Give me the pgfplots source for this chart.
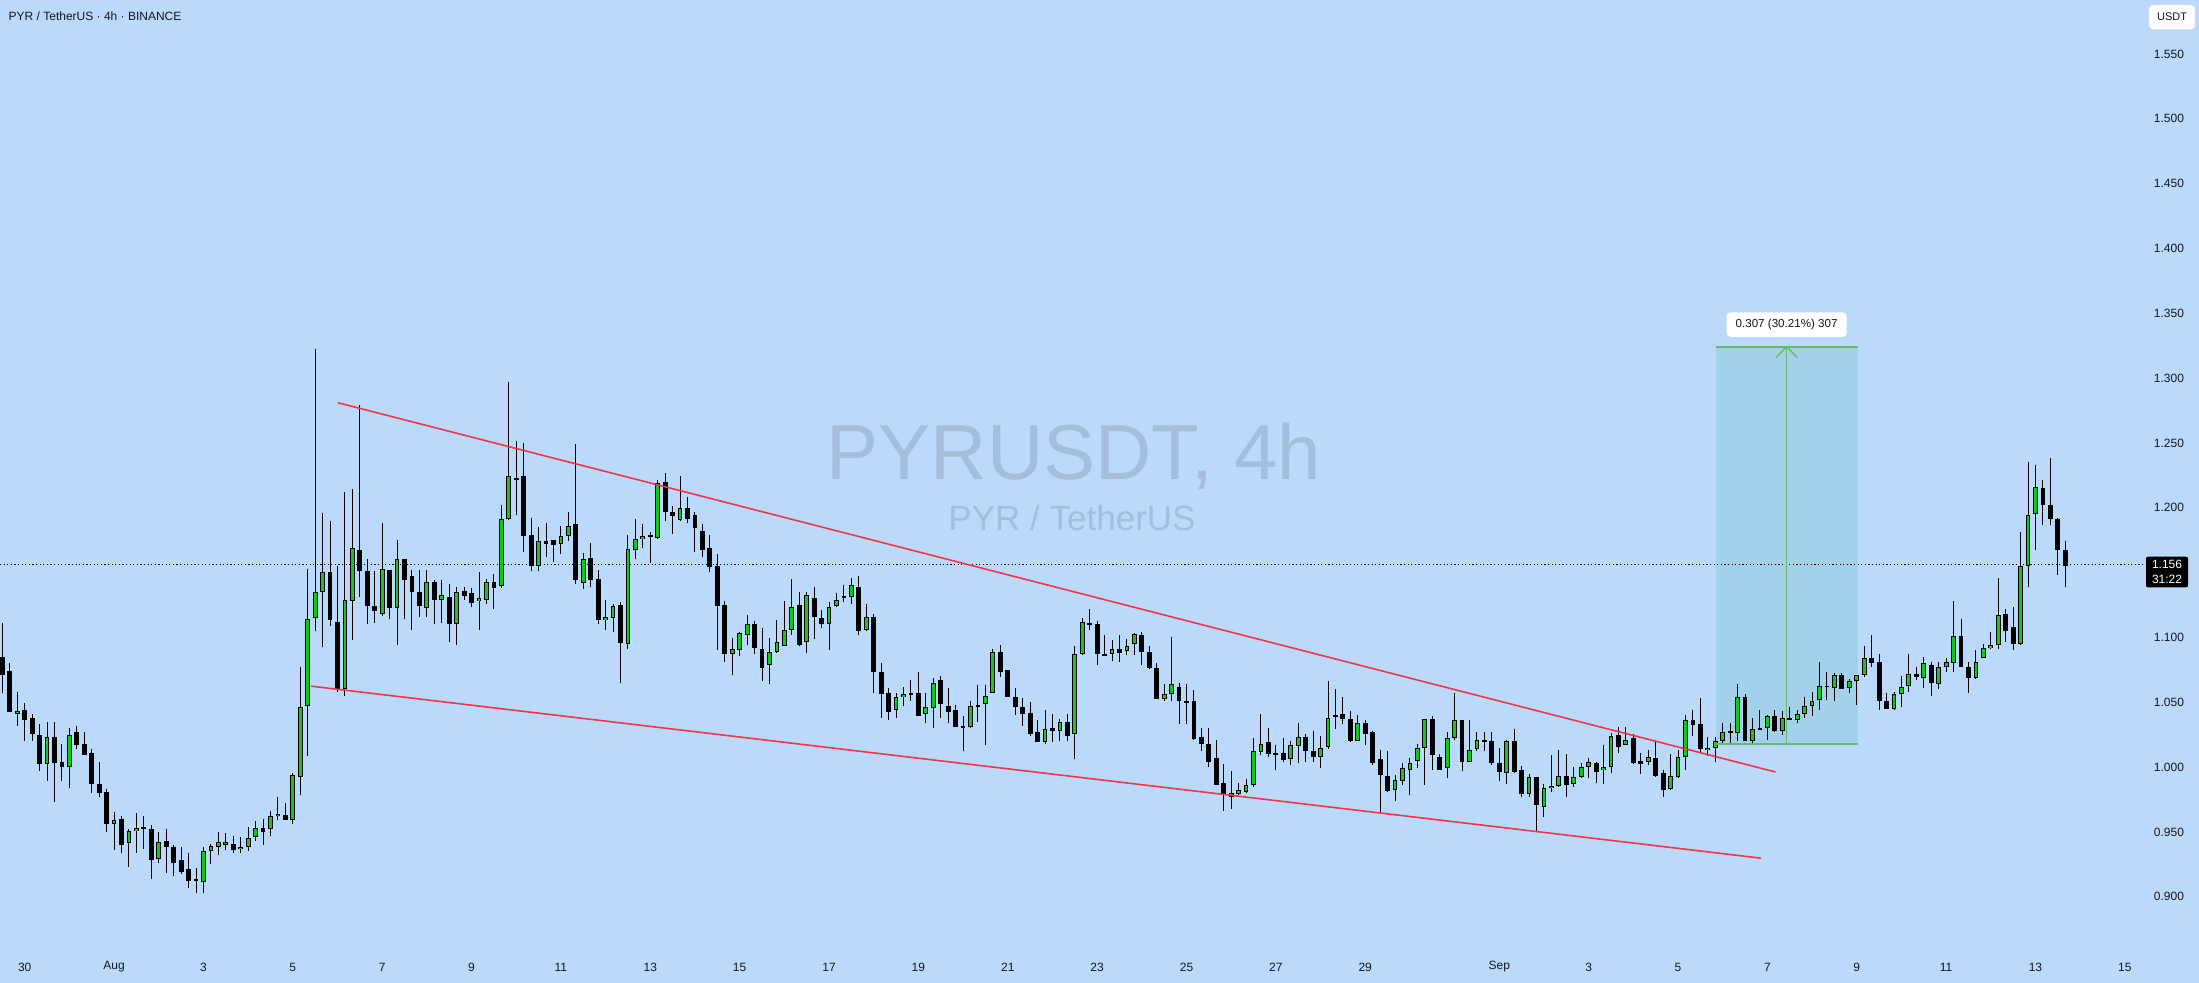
\documentclass[border=0pt]{standalone}
\usepackage{pgfplots}
\pgfplotsset{compat=1.18}
\usepackage{pgfplotstable}
\usepackage{fontspec}
\setmainfont{Liberation Sans}
\definecolor{bgblue}{RGB}{187,217,251}
\definecolor{candlegreen}{RGB}{24,198,26}
\definecolor{trendred}{RGB}{242,54,69}
\definecolor{rangegreen}{RGB}{102,187,106}
\definecolor{rangefill}{RGB}{163,208,234}
\definecolor{wmark}{RGB}{164,190,220}
\definecolor{txt}{RGB}{19,23,34}
\pgfplotstableread{
i o h l c
0 1.0848 1.1114 1.0568 1.0714
1 1.0742 1.0806 1.0424 1.0427
2 1.0413 1.0582 1.0315 1.0433
3 1.0441 1.0498 1.0203 1.0365
4 1.0379 1.0413 1.0203 1.0259
5 1.0248 1.0335 0.9971 1.0027
6 1.0021 1.0349 0.9895 1.0231
7 1.0231 1.0349 0.9727 1.0035
8 1.0041 1.0181 0.9895 0.9999
9 0.9999 1.0301 0.9839 1.0245
10 1.0270 1.0315 1.0141 1.0167
11 1.0178 1.0273 1.0095 1.0097
12 1.0108 1.0139 0.9803 0.9867
13 0.9870 1.0041 0.9769 0.9803
14 0.9808 0.9834 0.9502 0.9558
15 0.9558 0.9651 0.9362 0.9592
16 0.9600 0.9623 0.9334 0.9401
17 0.9418 0.9524 0.9230 0.9508
18 0.9505 0.9643 0.9340 0.9527
19 0.9538 0.9623 0.9370 0.9519
20 0.9522 0.9553 0.9138 0.9286
21 0.9289 0.9496 0.9261 0.9421
22 0.9429 0.9522 0.9186 0.9387
23 0.9387 0.9401 0.9163 0.9264
24 0.9284 0.9384 0.9172 0.9194
25 0.9214 0.9334 0.9068 0.9124
26 0.9138 0.9222 0.9032 0.9124
27 0.9113 0.9384 0.9026 0.9354
28 0.9351 0.9404 0.9255 0.9393
29 0.9382 0.9499 0.9326 0.9424
30 0.9401 0.9491 0.9362 0.9424
31 0.9407 0.9469 0.9334 0.9359
32 0.9368 0.9460 0.9334 0.9384
33 0.9384 0.9538 0.9356 0.9455
34 0.9460 0.9581 0.9432 0.9530
35 0.9530 0.9600 0.9396 0.9502
36 0.9522 0.9662 0.9469 0.9623
37 0.9620 0.9769 0.9595 0.9640
38 0.9634 0.9727 0.9592 0.9595
39 0.9595 0.9957 0.9564 0.9940
40 0.9923 1.0770 0.9783 1.0462
41 1.0470 1.1529 1.0083 1.1139
42 1.1148 1.3225 1.1050 1.1347
43 1.1347 1.1961 1.0924 1.1501
44 1.1501 1.1899 1.1086 1.1137
45 1.1120 1.1549 1.0582 1.0596
46 1.0605 1.2118 1.0546 1.1285
47 1.1279 1.2146 1.0982 1.1686
48 1.1675 1.2790 1.1311 1.1515
49 1.1510 1.1605 1.1106 1.1240
50 1.1240 1.1512 1.1114 1.1207
51 1.1184 1.1882 1.1162 1.1526
52 1.1518 1.1521 1.1142 1.1226
53 1.1229 1.1751 1.0943 1.1602
54 1.1602 1.1608 1.1142 1.1440
55 1.1470 1.1521 1.1058 1.1347
56 1.1347 1.1521 1.1156 1.1246
57 1.1229 1.1521 1.1156 1.1425
58 1.1425 1.1442 1.1106 1.1285
59 1.1285 1.1442 1.1114 1.1324
60 1.1310 1.1414 1.0966 1.1106
61 1.1106 1.1389 1.0938 1.1347
62 1.1358 1.1389 1.1291 1.1319
63 1.1342 1.1381 1.1235 1.1268
64 1.1279 1.1504 1.1058 1.1302
65 1.1285 1.1448 1.1260 1.1425
66 1.1425 1.1490 1.1223 1.1383
67 1.1400 1.2025 1.1378 1.1910
68 1.1910 1.2970 1.1902 1.2241
69 1.2227 1.2513 1.1947 1.2216
70 1.2241 1.2496 1.1655 1.1784
71 1.1787 1.1921 1.1515 1.1554
72 1.1554 1.1849 1.1515 1.1742
73 1.1742 1.1882 1.1622 1.1723
74 1.1748 1.1750 1.1582 1.1709
75 1.1717 1.1857 1.1644 1.1779
76 1.1781 1.1964 1.1745 1.1857
77 1.1871 1.2488 1.1409 1.1445
78 1.1417 1.1650 1.1375 1.1602
79 1.1610 1.1725 1.1392 1.1445
80 1.1448 1.1521 1.1106 1.1137
81 1.1137 1.1288 1.1058 1.1154
82 1.1148 1.1254 1.1044 1.1240
83 1.1249 1.1274 1.0652 1.0960
84 1.0946 1.1787 1.0912 1.1681
85 1.1672 1.1913 1.1605 1.1756
86 1.1756 1.1871 1.1689 1.1781
87 1.1787 1.1815 1.1577 1.1779
88 1.1767 1.2216 1.1759 1.2188
89 1.2196 1.2269 1.1899 1.1964
90 1.1964 1.2011 1.1801 1.1938
91 1.1907 1.2244 1.1899 1.1997
92 1.1997 1.2084 1.1885 1.1916
93 1.1944 1.1964 1.1661 1.1840
94 1.1821 1.1871 1.1624 1.1678
95 1.1689 1.1790 1.1507 1.1546
96 1.1549 1.1641 1.0904 1.1246
97 1.1252 1.1282 1.0814 1.0870
98 1.0870 1.0999 1.0708 1.0907
99 1.0904 1.1044 1.0854 1.1033
100 1.1016 1.1170 1.0943 1.1100
101 1.1100 1.1128 1.0876 1.0915
102 1.0907 1.1072 1.0666 1.0767
103 1.0786 1.0999 1.0638 1.0884
104 1.0884 1.1131 1.0882 1.0963
105 1.0932 1.1282 1.0930 1.1055
106 1.1055 1.1448 1.1022 1.1232
107 1.1249 1.1347 1.0936 1.0938
108 1.0963 1.1347 1.0876 1.1324
109 1.1302 1.1389 1.0988 1.1156
110 1.1148 1.1212 1.1072 1.1106
111 1.1100 1.1274 1.0904 1.1232
112 1.1240 1.1341 1.1238 1.1285
113 1.1319 1.1403 1.1274 1.1308
114 1.1310 1.1456 1.1260 1.1403
115 1.1386 1.1470 1.1016 1.1053
116 1.1055 1.1254 1.1050 1.1156
117 1.1156 1.1179 1.0573 1.0730
118 1.0730 1.0803 1.0377 1.0560
119 1.0571 1.0607 1.0365 1.0427
120 1.0438 1.0574 1.0377 1.0540
121 1.0540 1.0618 1.0475 1.0562
122 1.0571 1.0669 1.0512 1.0562
123 1.0571 1.0733 1.0394 1.0396
124 1.0413 1.0574 1.0343 1.0461
125 1.0458 1.0686 1.0304 1.0646
126 1.0669 1.0700 1.0382 1.0489
127 1.0475 1.0607 1.0343 1.0427
128 1.0444 1.0475 1.0310 1.0312
129 1.0315 1.0393 1.0127 1.0304
130 1.0307 1.0509 1.0305 1.0470
131 1.0478 1.0632 1.0349 1.0470
132 1.0489 1.0632 1.0167 1.0545
133 1.0571 1.0907 1.0569 1.0884
134 1.0887 1.0940 1.0691 1.0736
135 1.0747 1.0752 1.0538 1.0540
136 1.0540 1.0607 1.0405 1.0461
137 1.0461 1.0534 1.0315 1.0413
138 1.0416 1.0503 1.0242 1.0259
139 1.0270 1.0363 1.0195 1.0197
140 1.0197 1.0438 1.0181 1.0295
141 1.0298 1.0410 1.0197 1.0276
142 1.0276 1.0371 1.0203 1.0346
143 1.0346 1.0410 1.0203 1.0237
144 1.0259 1.0932 1.0066 1.0870
145 1.0870 1.1148 1.0868 1.1117
146 1.1111 1.1221 1.1055 1.1100
147 1.1100 1.1128 1.0786 1.0870
148 1.0870 1.1019 1.0857 1.0859
149 1.0870 1.0980 1.0820 1.0907
150 1.0907 1.1019 1.0809 1.0882
151 1.0898 1.0988 1.0868 1.0932
152 1.0946 1.1036 1.0868 1.1030
153 1.1016 1.1041 1.0786 1.0884
154 1.0887 1.0935 1.0753 1.0764
155 1.0764 1.0803 1.0527 1.0529
156 1.0529 1.0640 1.0506 1.0565
157 1.0562 1.1002 1.0506 1.0638
158 1.0618 1.0646 1.0335 1.0512
159 1.0506 1.0643 1.0335 1.0498
160 1.0509 1.0596 1.0209 1.0217
161 1.0231 1.0301 1.0127 1.0175
162 1.0181 1.0301 1.0004 1.0043
163 1.0071 1.0209 0.9859 0.9861
164 0.9878 1.0024 0.9665 0.9786
165 0.9769 0.9971 0.9679 0.9797
166 0.9791 0.9878 0.9783 0.9822
167 0.9805 0.9909 0.9797 0.9861
168 0.9861 1.0228 0.9844 1.0122
169 1.0119 1.0410 1.0097 1.0178
170 1.0195 1.0301 1.0077 1.0099
171 1.0111 1.0170 0.9979 1.0097
172 1.0111 1.0226 1.0043 1.0055
173 1.0060 1.0200 1.0015 1.0170
174 1.0161 1.0340 1.0035 1.0231
175 1.0231 1.0259 1.0043 1.0127
176 1.0125 1.0279 1.0043 1.0074
177 1.0074 1.0240 0.9993 1.0144
178 1.0158 1.0663 1.0139 1.0377
179 1.0399 1.0601 1.0293 1.0388
180 1.0410 1.0540 1.0335 1.0368
181 1.0371 1.0433 1.0195 1.0200
182 1.0200 1.0399 1.0198 1.0340
183 1.0340 1.0360 1.0167 1.0259
184 1.0270 1.0276 1.0015 1.0035
185 1.0060 1.0133 0.9643 0.9937
186 0.9928 1.0125 0.9805 0.9819
187 0.9825 0.9937 0.9735 0.9901
188 0.9892 1.0029 0.9861 0.9993
189 0.9979 1.0071 0.9783 1.0029
190 1.0046 1.0181 0.9996 1.0147
191 1.0144 1.0371 0.9861 1.0368
192 1.0368 1.0393 0.9979 1.0091
193 1.0077 1.0102 0.9977 0.9979
194 0.9993 1.0270 0.9914 1.0223
195 1.0228 1.0574 1.0212 1.0360
196 1.0363 1.0365 0.9973 1.0043
197 1.0043 1.0363 1.0041 1.0130
198 1.0139 1.0270 1.0125 1.0206
199 1.0206 1.0270 1.0125 1.0200
200 1.0200 1.0270 1.0013 1.0035
201 1.0032 1.0147 0.9895 0.9965
202 0.9957 1.0209 0.9873 1.0200
203 1.0200 1.0293 0.9957 0.9965
204 0.9979 1.0007 0.9769 0.9789
205 0.9791 0.9945 0.9769 0.9923
206 0.9923 0.9926 0.9497 0.9707
207 0.9693 0.9873 0.9614 0.9836
208 0.9836 1.0091 0.9811 0.9856
209 0.9853 1.0133 0.9844 0.9929
210 0.9929 1.0102 0.9771 0.9861
211 0.9867 1.0001 0.9844 0.9923
212 0.9923 1.0035 0.9917 0.9999
213 0.9999 1.0069 0.9915 1.0038
214 1.0032 1.0038 0.9881 0.9965
215 0.9976 1.0170 0.9873 1.0001
216 0.9999 1.0265 0.9957 1.0237
217 1.0248 1.0310 1.0111 1.0158
218 1.0170 1.0310 1.0168 1.0206
219 1.0226 1.0259 1.0027 1.0035
220 1.0046 1.0111 0.9943 1.0021
221 1.0038 1.0133 1.0015 1.0074
222 1.0069 1.0197 0.9923 0.9934
223 0.9951 0.9979 0.9769 0.9822
224 0.9828 1.0099 0.9826 0.9929
225 0.9923 1.0133 0.9915 1.0077
226 1.0077 1.0399 0.9979 1.0360
227 1.0360 1.0441 1.0242 1.0326
228 1.0329 1.0534 1.0111 1.0136
229 1.0130 1.0231 1.0083 1.0147
230 1.0144 1.0231 1.0043 1.0200
231 1.0200 1.0340 1.0175 1.0270
232 1.0279 1.0340 1.0167 1.0262
233 1.0262 1.0640 1.0203 1.0537
234 1.0537 1.0562 1.0201 1.0203
235 1.0200 1.0377 1.0181 1.0290
236 1.0301 1.0438 1.0291 1.0293
237 1.0304 1.0399 1.0212 1.0391
238 1.0391 1.0438 1.0274 1.0276
239 1.0276 1.0433 1.0245 1.0377
240 1.0377 1.0461 1.0364 1.0366
241 1.0363 1.0441 1.0343 1.0413
242 1.0413 1.0540 1.0380 1.0475
243 1.0470 1.0576 1.0396 1.0512
244 1.0514 1.0814 1.0441 1.0629
245 1.0629 1.0733 1.0517 1.0615
246 1.0607 1.0722 1.0512 1.0708
247 1.0708 1.0722 1.0602 1.0604
248 1.0607 1.0680 1.0568 1.0666
249 1.0663 1.0710 1.0475 1.0708
250 1.0708 1.0932 1.0691 1.0840
251 1.0840 1.1016 1.0770 1.0806
252 1.0812 1.0876 1.0438 1.0506
253 1.0509 1.0568 1.0445 1.0447
254 1.0447 1.0579 1.0438 1.0565
255 1.0562 1.0700 1.0467 1.0615
256 1.0629 1.0876 1.0582 1.0716
257 1.0719 1.0770 1.0674 1.0694
258 1.0685 1.0848 1.0612 1.0800
259 1.0786 1.0814 1.0545 1.0646
260 1.0638 1.0814 1.0604 1.0770
261 1.0770 1.0840 1.0736 1.0812
262 1.0800 1.1282 1.0736 1.1008
263 1.1008 1.1140 1.0768 1.0770
264 1.0770 1.0812 1.0568 1.0685
265 1.0685 1.0904 1.0683 1.0814
266 1.0840 1.0946 1.0838 1.0915
267 1.0915 1.1044 1.0910 1.0938
268 1.0938 1.1459 1.0910 1.1170
269 1.1179 1.1218 1.0966 1.1053
270 1.1078 1.1235 1.0904 1.0946
271 1.0946 1.1812 1.0944 1.1549
272 1.1554 1.2353 1.1392 1.1941
273 1.1950 1.2331 1.1675 1.2157
274 1.2150 1.2217 1.1864 1.2019
275 1.2019 1.2386 1.1864 1.1913
276 1.1913 1.1922 1.1478 1.1676
277 1.1676 1.1743 1.1391 1.1550
}\candles
\begin{document}
\begin{tikzpicture}
\fill[bgblue] (0pt,0pt) rectangle (1099.5pt,491.5pt);
% watermark
\node[anchor=base, text=wmark, inner sep=0pt, font=\fontsize{39}{40}\selectfont] at (537pt,251.5pt) {PYRUSDT, 4h};
\node[anchor=base, text=wmark, inner sep=0pt, font=\fontsize{17.5}{19}\selectfont] at (536pt,226pt) {PYR / TetherUS};
\begin{axis}[
  at={(0pt,16.5pt)}, anchor=south west,
  width=1072.5pt, height=475pt, scale only axis,
  xmin=-0.32, xmax=287.7, ymin=0.85895, ymax=1.59157,
  axis line style={draw=none}, tick style={draw=none},
  xtick={3,15,27,39,51,63,75,87,99,111,123,135,147,159,171,183,201,213,225,237,249,261,273,285},
  xticklabels={30,Aug,3,5,7,9,11,13,15,17,19,21,23,25,27,29,Sep,3,5,7,9,11,13,15},
  ytick={0.9,0.95,1,1.05,1.1,1.2,1.25,1.3,1.35,1.4,1.45,1.5,1.55},
  yticklabels={0.900,0.950,1.000,1.050,1.100,1.200,1.250,1.300,1.350,1.400,1.450,1.500,1.550},
  yticklabel pos=right,
  tick label style={font=\fontsize{6}{7}\selectfont, text=txt},
  xticklabel style={anchor=center, yshift=-8.5pt},
  yticklabel style={anchor=center, xshift=12pt},
]
% price range box
\fill[rangefill] (axis cs:230.04,1.0175) rectangle (axis cs:249.12,1.3242);
% last price dotted line
\addplot[black, line width=0.5pt, dash pattern=on 0.6pt off 1.2pt] coordinates {(-0.32,1.156) (287.7,1.156)};
% wicks
\addplot[black, only marks, mark size=0pt, mark options={draw=none, fill=none},
  error bars/.cd, y dir=both, y explicit, error mark=none,
  error bar style={line width=0.5pt, black}]
  table[x=i, y expr={(\thisrow{h}+\thisrow{l})/2}, y error expr={(\thisrow{h}-\thisrow{l})/2}] {\candles};
% bodies (outline / black)
\addplot[black, only marks, mark size=0pt, mark options={draw=none, fill=none},
  error bars/.cd, y dir=both, y explicit, error mark=none,
  error bar style={line width=2.4pt, black}]
  table[x=i, y expr={(\thisrow{o}+\thisrow{c})/2}, y error expr={max(abs(\thisrow{c}-\thisrow{o})/2,0.0006)}] {\candles};
% green fill
\addplot[candlegreen, only marks, mark size=0pt, mark options={draw=none, fill=none},
  error bars/.cd, y dir=both, y explicit, error mark=none,
  error bar style={line width=1.4pt, candlegreen}]
  table[x=i, y expr={(\thisrow{o}+\thisrow{c})/2}, y error expr={(\thisrow{c}>\thisrow{o})*max((\thisrow{c}-\thisrow{o})/2-0.00077,0)}] {\candles};
% trend lines
\addplot[trendred, line width=0.8pt] coordinates {(45.04,1.2810) (238.08,0.99622)};
\addplot[trendred, line width=0.8pt] coordinates {(41.47,1.0624) (236.16,0.92974)};
% price range lines
\addplot[rangegreen, line width=0.9pt] coordinates {(230.04,1.3242) (249.12,1.3242)};
\addplot[rangegreen, line width=0.9pt] coordinates {(230.04,1.0175) (249.12,1.0175)};
\addplot[rangegreen, line width=0.7pt] coordinates {(239.58,1.0175) (239.58,1.3242)};
\addplot[rangegreen, line width=0.7pt] coordinates {(238.14,1.3158) (239.58,1.3242) (241.02,1.3158)};
\node[fill=white, rounded corners=2pt, minimum width=60pt, minimum height=12.25pt, inner sep=0pt, text=txt, font=\fontsize{5.8}{7}\selectfont] at (axis cs:239.58,1.3413) {0.307 (30.21\%) 307};
\end{axis}
% title
\node[anchor=base west, inner sep=0pt, text=txt, font=\fontsize{6}{7}\selectfont] at (4.15pt,481.15pt) {PYR / TetherUS · 4h · BINANCE};
% USDT box
\node[fill=white, draw={rgb,255:red,224;green,227;blue,235}, line width=0.3pt, rounded corners=2pt, minimum width=23pt, minimum height=12.25pt, inner sep=0pt, text=txt, font=\fontsize{5.5}{6}\selectfont] at (1086pt,482.9pt) {USDT};
% last price label
\fill[black, rounded corners=1pt] (1073pt,197.8pt) rectangle (1094pt,213.15pt);
\node[text=white, inner sep=0pt, font=\fontsize{6}{7}\selectfont] at (1083.5pt,209.2pt) {1.156};
\node[text=white, inner sep=0pt, font=\fontsize{6}{7}\selectfont] at (1083.5pt,201.6pt) {31:22};
\pgfresetboundingbox
\path[use as bounding box] (0pt,0pt) rectangle (1099.5pt,491.5pt);
\end{tikzpicture}
\end{document}
